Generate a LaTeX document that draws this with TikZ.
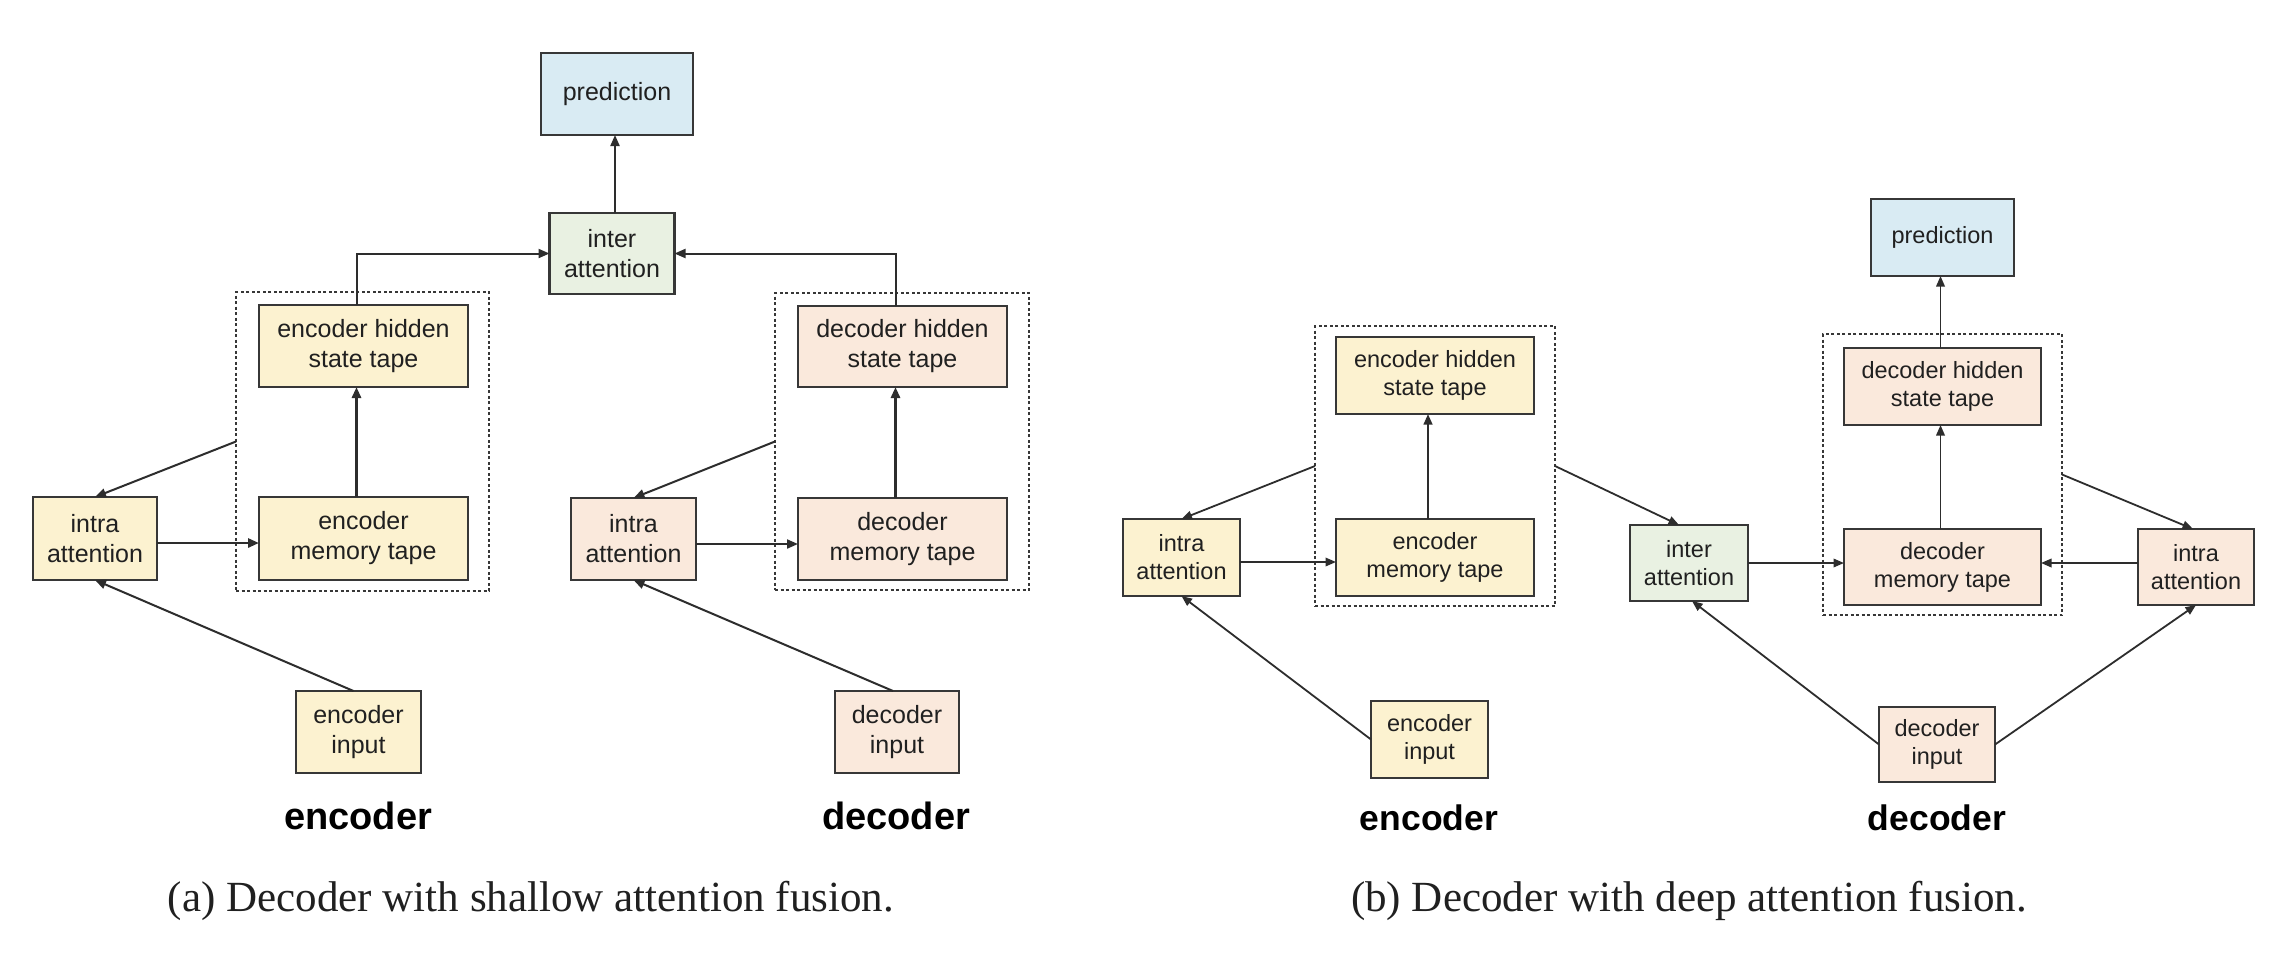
\documentclass[tikz,border=0pt]{standalone}
\usepackage{fontspec}
\setmainfont{Liberation Serif}
\newfontfamily\sansfam{Liberation Sans}
\usetikzlibrary{arrows.meta,calc}
\definecolor{ylw}{RGB}{252,242,208}
\definecolor{pnk}{RGB}{250,233,220}
\definecolor{grn}{RGB}{233,241,226}
\definecolor{blu}{RGB}{217,235,243}
\definecolor{bordc}{RGB}{55,55,55}
\definecolor{txtc}{RGB}{32,32,32}
\definecolor{linec}{RGB}{45,45,45}
\tikzset{
  box/.style={draw=bordc, line width=2.8pt, inner sep=0pt, outer sep=0pt, align=center, text=txtc},
  boxA/.style={box, font=\sansfam\fontsize{25}{30}\selectfont},
  boxB/.style={box, font=\sansfam\fontsize{23.5}{28}\selectfont},
  dbox/.style={draw=bordc, line width=2.4pt, dash pattern=on 3pt off 2.5pt, inner sep=0pt, outer sep=0pt},
  arrA/.style={draw=linec, line width=2pt, -{Triangle[length=11pt,width=9pt]}},
  arrAthick/.style={arrA, line width=2.8pt},
  arrB/.style={draw=linec, line width=1.8pt, -{Triangle[length=10.5pt,width=8.5pt]}},
  lblA/.style={font=\sansfam\bfseries\fontsize{38}{40}\selectfont, anchor=base, inner sep=0pt},
  lblB/.style={font=\sansfam\bfseries\fontsize{35.5}{38}\selectfont, anchor=base, inner sep=0pt},
  capt/.style={font=\fontsize{43}{46}\selectfont, anchor=base, inner sep=0pt, text=txtc}
}
\begin{document}
\begin{tikzpicture}[x=1pt,y=-1pt]
\useasboundingbox[fill=white] (0,0) rectangle (2284,954);

% ---------------- panel (a) ----------------
\node[dbox, minimum width=253pt, minimum height=299pt] (boxEA) at (362.5,441.5) {};
\node[dbox, minimum width=254pt, minimum height=297pt] (boxDA) at (902,441.5) {};

\node[boxA, fill=blu, minimum width=152pt, minimum height=82pt] (predA) at (617,94) {prediction};
\node[boxA, fill=grn, minimum width=125pt, minimum height=81pt] (interA) at (612,253.5) {inter\\attention};

\node[boxA, fill=ylw, minimum width=209pt, minimum height=82pt] (ehidA) at (363.5,346) {encoder hidden\\state tape};
\node[boxA, fill=ylw, minimum width=209pt, minimum height=83pt] (ememA) at (363.5,538.5) {encoder\\memory tape};
\node[boxA, fill=ylw, minimum width=124pt, minimum height=83pt] (eintraA) at (95,538.5) {intra\\attention};
\node[boxA, fill=ylw, minimum width=125pt, minimum height=82pt] (einA) at (358.5,732) {encoder\\input};

\node[boxA, fill=pnk, minimum width=209pt, minimum height=81pt] (dhidA) at (902.5,346.5) {decoder hidden\\state tape};
\node[boxA, fill=pnk, minimum width=209pt, minimum height=82pt] (dmemA) at (902.5,539) {decoder\\memory tape};
\node[boxA, fill=pnk, minimum width=125pt, minimum height=82pt] (dintraA) at (633.5,539) {intra\\attention};
\node[boxA, fill=pnk, minimum width=124pt, minimum height=82pt] (dinA) at (897,732) {decoder\\input};

\draw[arrA] ([xshift=3pt]interA.north) -- ([xshift=3pt]interA.north |- predA.south);
\draw[arrA] ([xshift=-7pt]ehidA.north) |- (interA.west);
\draw[arrA] ([xshift=-7pt]dhidA.north) |- (interA.east);
\draw[arrAthick] ([xshift=-7pt]ememA.north) -- ([xshift=-7pt]ehidA.south);
\draw[arrAthick] ([xshift=-7pt]dmemA.north) -- ([xshift=-7pt]dhidA.south);
\draw[arrAthick] ([yshift=-4.5pt]eintraA.east) -- ([yshift=-4.5pt]ememA.west);
\draw[arrA] ([yshift=-5pt]dintraA.east) -- ([yshift=-5pt]dmemA.west);
\draw[arrA] (boxEA.west) -- (eintraA.north);
\draw[arrA] (boxDA.west) -- (dintraA.north);
\draw[arrA] ([xshift=-5pt]einA.north) -- (eintraA.south);
\draw[arrA] ([xshift=-4pt]dinA.north) -- (dintraA.south);

\node[lblA] (lencA) at (358,829) {encoder};
\node[lblA] (ldecA) at (896,829) {decoder};
\node[capt] (capA) at (531,911) {(a) Decoder with shallow attention fusion.};

% ---------------- panel (b) ----------------
\node[dbox, minimum width=240pt, minimum height=280pt] (boxEB) at (1435,466) {};
\node[dbox, minimum width=239pt, minimum height=281pt] (boxDB) at (1942.5,474.5) {};

\node[boxB, fill=ylw, minimum width=198pt, minimum height=77pt] (ehidB) at (1435,375.5) {encoder hidden\\state tape};
\node[boxB, fill=ylw, minimum width=198pt, minimum height=77pt] (ememB) at (1435,557.5) {encoder\\memory tape};
\node[boxB, fill=ylw, minimum width=117pt, minimum height=77pt] (eintraB) at (1181.5,557.5) {intra\\attention};
\node[boxB, fill=ylw, minimum width=117pt, minimum height=77pt] (einB) at (1429.5,739.5) {encoder\\input};

\node[boxB, fill=grn, minimum width=118pt, minimum height=76pt] (interB) at (1689,563) {inter\\attention};

\node[boxB, fill=blu, minimum width=143pt, minimum height=77pt] (predB) at (1942.5,237.5) {prediction};
\node[boxB, fill=pnk, minimum width=197pt, minimum height=77pt] (dhidB) at (1942.5,386.5) {decoder hidden\\state tape};
\node[boxB, fill=pnk, minimum width=197pt, minimum height=76pt] (dmemB) at (1942.5,567) {decoder\\memory tape};
\node[boxB, fill=pnk, minimum width=116pt, minimum height=76pt] (dintraB) at (2196,567) {intra\\attention};
\node[boxB, fill=pnk, minimum width=116pt, minimum height=75pt] (dinB) at (1937,744.5) {decoder\\input};

\draw[arrB] (boxEB.west) -- (eintraB.north);
\draw[arrB] ([yshift=-4.5pt]eintraB.east) -- ([yshift=-4.5pt]ememB.west);
\draw[arrB, line width=2.3pt] ([xshift=-7pt]ememB.north) -- ([xshift=-7pt]ehidB.south);
\draw[arrB] (einB.west) -- (eintraB.south);
\draw[arrB] (boxEB.east) -- ([xshift=-10pt]interB.north);
\draw[arrB] (interB.east) -- (interB.east -| dmemB.west);
\draw[arrB] ([yshift=4pt]dintraB.west) -- ([yshift=4pt]dmemB.east);
\draw[arrB] ([xshift=-2pt]dmemB.north) -- ([xshift=-2pt]dhidB.south);
\draw[arrB] ([xshift=-2pt]dhidB.north) -- ([xshift=-2pt]predB.south);
\draw[arrB] (boxDB.east) -- ([xshift=-3pt]dintraB.north);
\draw[arrB] (dinB.west) -- ([xshift=3pt]interB.south);
\draw[arrB] (dinB.east) -- (dintraB.south);

\node[lblB] (lencB) at (1429,830) {encoder};
\node[lblB] (ldecB) at (1937,830) {decoder};
\node[capt] (capB) at (1689,911) {(b) Decoder with deep attention fusion.};
\end{tikzpicture}
\end{document}
